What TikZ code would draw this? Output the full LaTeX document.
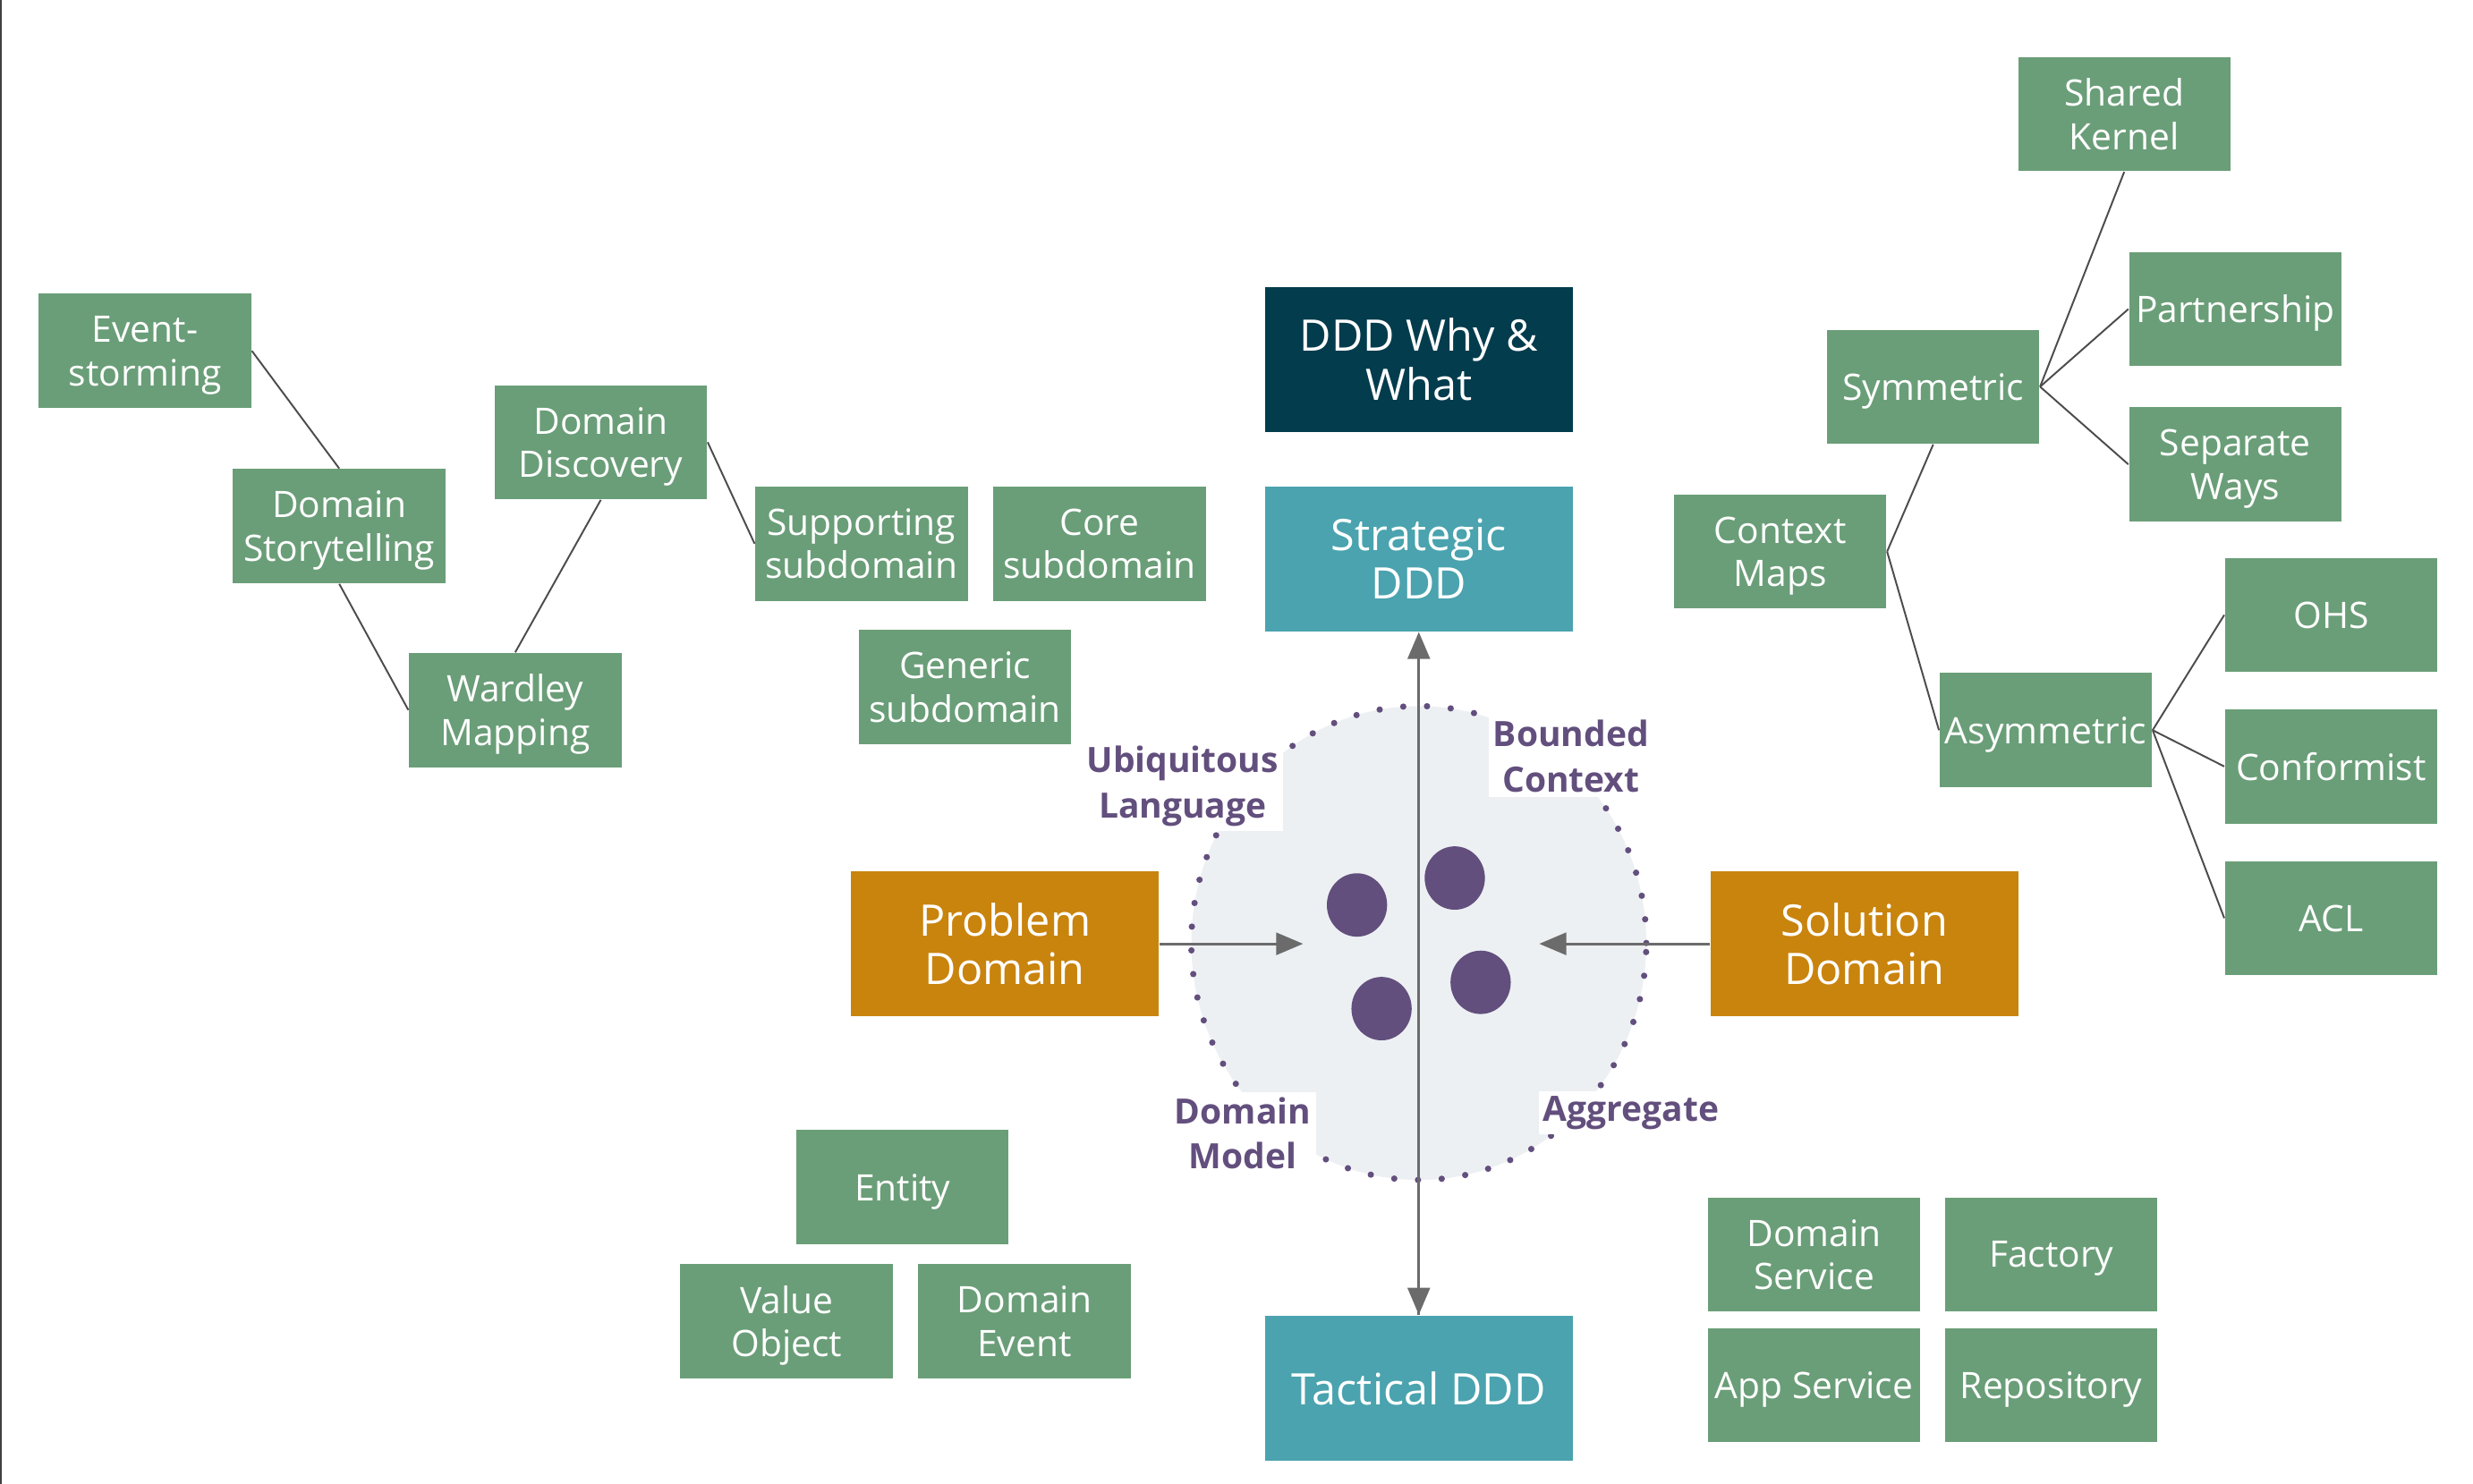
\documentclass[tikz,border=0pt]{standalone}
\usepackage{fontspec}
\setmainfont{Open Sans}
\usetikzlibrary{arrows.meta,shapes.geometric}
\definecolor{boxgreen}{HTML}{6A9E78}
\definecolor{ddteal}{HTML}{4AA3AE}
\definecolor{ddnavy}{HTML}{033C4D}
\definecolor{ddorange}{HTML}{C9840E}
\definecolor{ddpurple}{HTML}{624F7D}
\definecolor{circfill}{HTML}{EDF0F3}
\definecolor{arrowgray}{HTML}{6B6B6B}
\begin{document}
\begin{tikzpicture}[x=0.5pt,y=-0.5pt,
 gbox/.style={fill=boxgreen, text=white, minimum width=67pt, minimum height=36pt, inner sep=0pt, text depth=0pt, align=center, font=\fontsize{11.5}{13.7}\selectfont},
 bbox/.style={minimum width=97pt, minimum height=45.75pt, inner sep=0pt, text depth=0pt, align=center, text=white, font=\fontsize{13.7}{15.3}\selectfont},
 conn/.style={draw=black!70, line width=0.55pt},
 arr/.style={draw=arrowgray, line width=0.8pt},
 tip/.style={-{Triangle[length=8.5pt,width=7pt]}},
 plabel/.style={fill=white, text=ddpurple, align=center, inner sep=1.5pt, font=\bfseries\fontsize{11}{14.3}\selectfont},
 dotnode/.style={ellipse, fill=ddpurple, minimum width=19pt, minimum height=20pt, inner sep=0pt}
]
\useasboundingbox (0,0) rectangle (1560,936.3);
\draw[black!75, line width=0.7pt] (0.7,0) -- (0.7,936.3);

% left cluster
\node[gbox] (es) at (91.5,221.4) {Event-\\storming};
\node[gbox] (dst) at (214,332) {Domain\\Storytelling};
\node[gbox] (ddi) at (379,279) {Domain\\Discovery};
\node[gbox] (wm) at (325,448) {Wardley\\Mapping};
\node[gbox] (sup) at (543.4,343) {Supporting\\subdomain};
\node[gbox] (core) at (693.6,343) {Core\\subdomain};
\node[gbox] (gen) at (608.7,433.6) {Generic\\subdomain};

\draw[conn] (es.east) -- (dst.north);
\draw[conn] (dst.south) -- (wm.west);
\draw[conn] (wm.north) -- (ddi.south);
\draw[conn] (ddi.east) -- (sup.west);

% center column
\node[bbox, fill=ddnavy] (why) at (895,226.7) {DDD Why \&\\What};
\node[bbox, fill=ddteal] (strat) at (895,352.6) {Strategic\\DDD};
\node[bbox, fill=ddteal] (tact) at (895,875.7) {Tactical DDD};
\node[bbox, fill=ddorange] (prob) at (634,595.5) {Problem\\Domain};
\node[bbox, fill=ddorange] (sol) at (1176,595.5) {Solution\\Domain};

% bounded context circle
\node[ellipse, minimum width=143.5pt, minimum height=149.5pt, inner sep=0pt, fill=circfill,
      draw=ddpurple, line width=2pt, line cap=round, dash pattern=on 0pt off 7.5pt] (bcirc) at (895,595) {};

\coordinate (pend) at (822,595.5);
\coordinate (send) at (971,595.5);
\draw[arr, tip] (tact.north) -- (strat.south);
\draw[arr, tip] (strat.south |- bcirc.center) -- (tact.north);
\draw[arr, tip] (prob.east) -- (pend);
\draw[arr, tip] (sol.west) -- (send);

\node[plabel] (ul) at (746,496) {Ubiquitous\\Language};
\node[plabel] (bc) at (991,477) {Bounded\\Context};
\node[plabel] (dm) at (784,715) {Domain\\Model};
\node[plabel] (ag) at (1029,702) {Aggregate};

\node[dotnode] (d1) at (856,571) {};
\node[dotnode] (d2) at (917.7,554) {};
\node[dotnode] (d3) at (871.5,636.4) {};
\node[dotnode] (d4) at (934,619.8) {};

% right cluster
\node[gbox] (cm) at (1123,348) {Context\\Maps};
\node[gbox] (sym) at (1219.5,244) {Symmetric};
\node[gbox] (sk) at (1340,72) {Shared\\Kernel};
\node[gbox] (pa) at (1410,195) {Partnership};
\node[gbox] (sw) at (1410,293) {Separate\\Ways};
\node[gbox] (asy) at (1290.5,460.7) {Asymmetric};
\node[gbox] (ohs) at (1470.5,388) {OHS};
\node[gbox] (conf) at (1470.5,483.6) {Conformist};
\node[gbox] (acl) at (1470.5,579.3) {ACL};

\draw[conn] (cm.east) -- (sym.south);
\draw[conn] (cm.east) -- (asy.west);
\draw[conn] (sym.east) -- (sk.south);
\draw[conn] (sym.east) -- (pa.west);
\draw[conn] (sym.east) -- (sw.west);
\draw[conn] (asy.east) -- (ohs.west);
\draw[conn] (asy.east) -- (conf.west);
\draw[conn] (asy.east) -- (acl.west);

% tactical building blocks
\node[gbox] (ent) at (569.3,749) {Entity};
\node[gbox] (vo) at (496.2,833.7) {Value\\Object};
\node[gbox] (de) at (646.2,833.7) {Domain\\Event};
\node[gbox] (dsv) at (1144.3,791.5) {Domain\\Service};
\node[gbox] (fac) at (1294,791.5) {Factory};
\node[gbox] (asv) at (1144.3,874) {App Service};
\node[gbox] (rep) at (1294,874) {Repository};
\end{tikzpicture}
\end{document}
